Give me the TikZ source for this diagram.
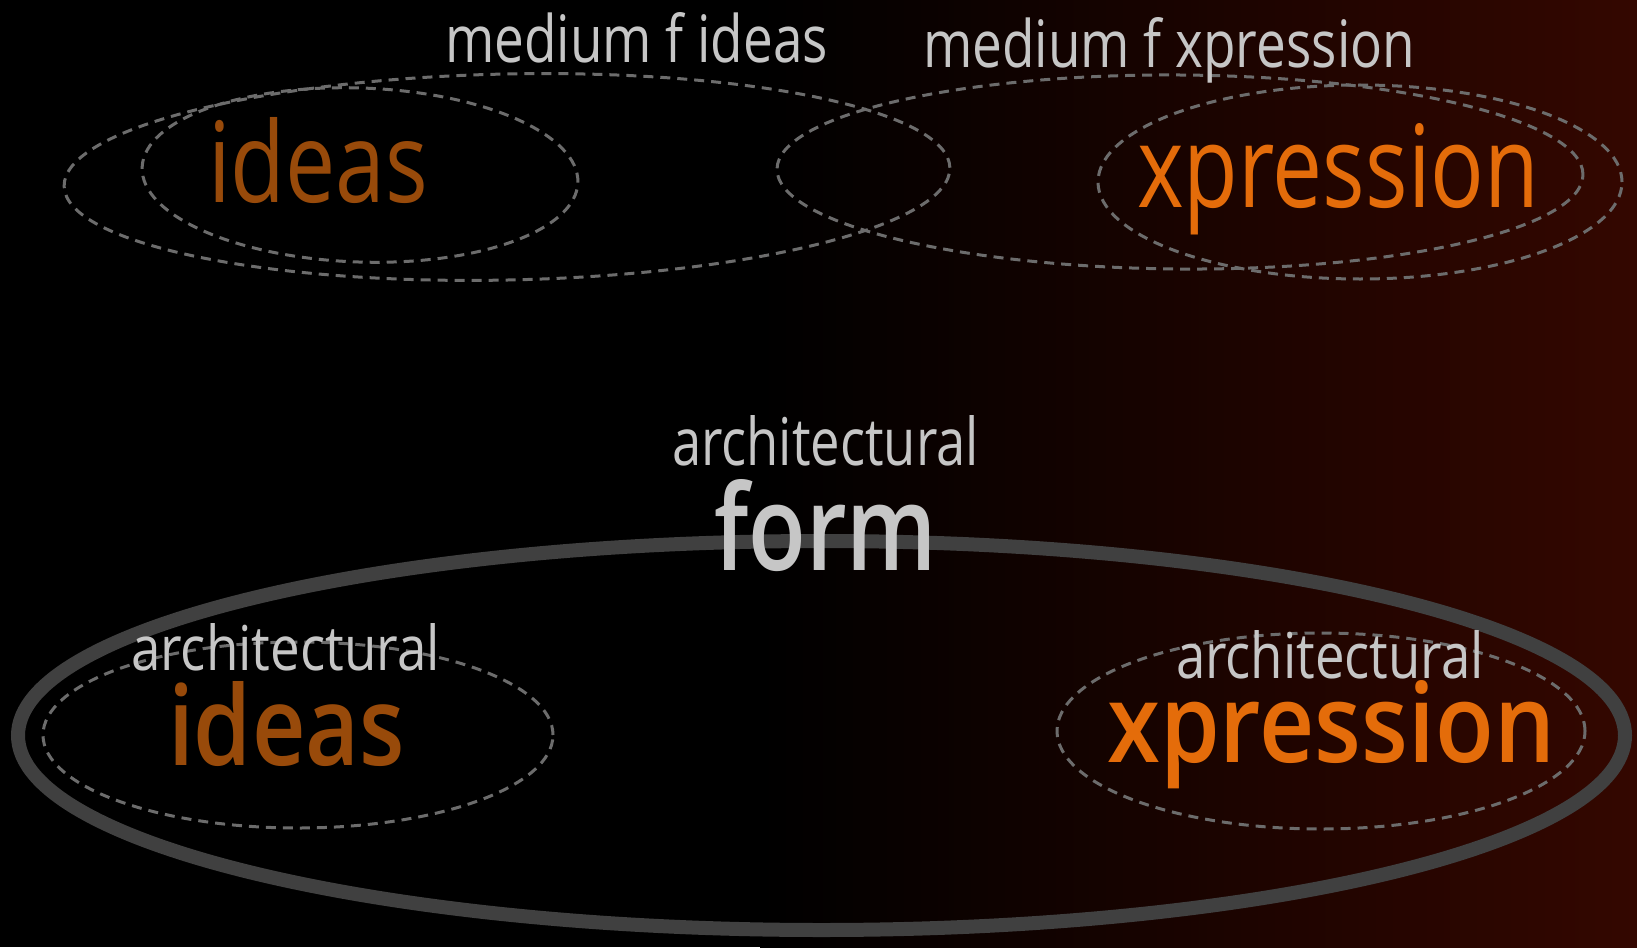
\documentclass[tikz,border=0pt]{standalone}
\usepackage{fontspec}
\usepackage{graphicx}
\setmainfont{Open Sans}
\newfontfamily\regf{Open Sans}
\IfFontExistsTF{Open Sans Semibold}{\newfontfamily\semif{Open Sans Semibold}}{\newfontfamily\semif{Open Sans}[FakeBold=1.2]}
\newcommand{\fitbox}[3]{\resizebox{#1pt}{#2pt}{#3}}
\definecolor{bgred}{RGB}{52,7,0}
\definecolor{dashgray}{RGB}{108,108,108}
\definecolor{ringgray}{RGB}{64,64,64}
\definecolor{txtgray}{RGB}{198,198,198}
\definecolor{brownorange}{RGB}{152,74,10}
\definecolor{brightorange}{RGB}{228,108,10}
\tikzset{
  dashring/.style={draw=dashgray, line width=3pt, dash pattern=on 10pt off 7pt},
  thickring/.style={draw=ringgray, line width=14pt},
  lbl/.style={anchor=base west, inner sep=0pt, outer sep=0pt},
  graylbl/.style={lbl, text=txtgray},
  brownlbl/.style={lbl, text=brownorange},
  orangelbl/.style={lbl, text=brightorange},
}
\begin{document}
\begin{tikzpicture}[x=1pt,y=-1pt]
\fill[black] (0,0) rectangle (1637,947);
\shade[left color=black, right color=bgred] (760,0) rectangle (1637,947);
\useasboundingbox (0,0) rectangle (1637,947);

% top-left: medium of ideas and ideas
\draw[dashring, rotate around={1.2:(507,177)}] (507,177) ellipse [x radius=443pt, y radius=103pt];
\draw[dashring, rotate around={-2:(360,175)}] (360,175) ellipse [x radius=218pt, y radius=87pt];
% top-right: medium of expression and expression
\draw[dashring, rotate around={-0.4:(1180,172)}] (1180,172) ellipse [x radius=403pt, y radius=97pt];
\draw[dashring] (1360,182) ellipse [x radius=262pt, y radius=97pt];
% bottom: architectural form
\draw[thickring] (821.5,735.5) ellipse [x radius=803.5pt, y radius=194.5pt];
\draw[dashring] (298,735) ellipse [x radius=255pt, y radius=93pt];
\draw[dashring] (1321,731) ellipse [x radius=264pt, y radius=98pt];

% labels
\node[graylbl] (mfi) at (445,63) {\fitbox{383}{50}{\regf medium f ideas}};
\node[graylbl] (mfx) at (923,68) {\fitbox{492}{50}{\regf medium f xpression}};
\node[brownlbl] (ideasT) at (208,202) {\fitbox{220}{85}{\regf ideas}};
\node[orangelbl] (xprT) at (1137,207) {\fitbox{402}{84}{\regf xpression}};
\node[graylbl] (archC) at (672,465) {\fitbox{307}{50}{\regf architectural}};
\node[graylbl] (form) at (714,570) {\fitbox{223}{91}{\semif form}};
\node[graylbl] (archL) at (131,670) {\fitbox{309}{47}{\regf architectural}};
\node[brownlbl] (ideasL) at (168,765) {\fitbox{237}{84}{\semif ideas}};
\node[graylbl] (archR) at (1176,678) {\fitbox{308}{48}{\regf architectural}};
\node[orangelbl] (xprL) at (1107,762) {\fitbox{448}{82}{\semif xpression}};
\end{tikzpicture}
\end{document}
